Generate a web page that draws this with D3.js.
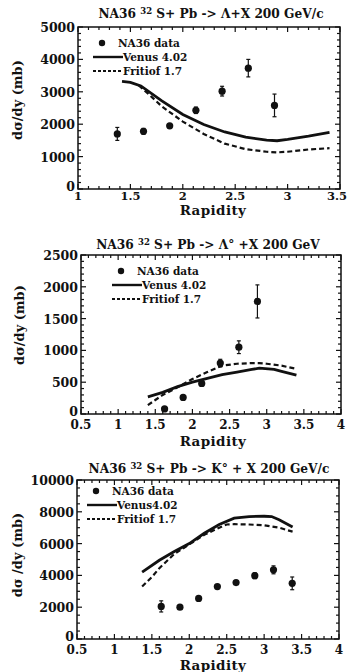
<!DOCTYPE html>
<html>
<head>
<meta charset="utf-8">
<script src="https://cdn.jsdelivr.net/npm/d3@7"></script>
<style>
  body { margin: 0; background: #fff; }
  svg text { font-family: 'DejaVu Serif', serif; font-weight: bold; fill: #111; }
</style>
</head>
<body>
<div id="chart"></div>
<script>
// Lambda panel
const lamDataX = [1.375, 1.625, 1.875, 2.125, 2.375, 2.625, 2.875];
const lamDataY = [1700, 1780, 1950, 2430, 3020, 3730, 2580];
const lamDataErr = [200, 90, 70, 100, 150, 270, 350];
const lamVenusX = [1.42, 1.5, 1.6, 1.8, 2.0, 2.2, 2.4, 2.6, 2.8, 2.9, 3.0, 3.2, 3.4];
const lamVenusY = [3320, 3290, 3180, 2720, 2300, 1990, 1760, 1600, 1510, 1490, 1530, 1630, 1750];
const lamFritX = [1.58, 1.7, 1.8, 2.0, 2.2, 2.4, 2.6, 2.8, 2.9, 3.0, 3.2, 3.4];
const lamFritY = [3200, 2850, 2550, 2080, 1700, 1400, 1230, 1150, 1130, 1150, 1220, 1260];

// anti-Lambda panel
const alamDataX = [1.625, 1.875, 2.125, 2.375, 2.625, 2.875];
const alamDataY = [80, 260, 480, 800, 1050, 1770];
const alamDataErr = [20, 30, 40, 60, 100, 260];
const alamVenusX = [1.4, 1.6, 1.8, 2.0, 2.2, 2.4, 2.6, 2.8, 2.9, 3.1, 3.2, 3.4];
const alamVenusY = [270, 340, 430, 500, 560, 620, 660, 700, 720, 700, 670, 610];
const alamFritX = [1.4, 1.5, 1.6, 1.8, 2.0, 2.2, 2.4, 2.6, 2.8, 2.9, 3.0, 3.2, 3.4];
const alamFritY = [140, 220, 300, 420, 550, 660, 760, 790, 800, 800, 790, 760, 710];

// K0 panel
const kDataX = [1.625, 1.875, 2.125, 2.375, 2.625, 2.875, 3.125, 3.375];
const kDataY = [2050, 2000, 2550, 3300, 3550, 3980, 4350, 3500];
const kDataErr = [350, 100, 120, 120, 120, 180, 250, 400];
const kVenusX = [1.37, 1.6, 1.8, 2.0, 2.2, 2.4, 2.6, 2.8, 3.0, 3.1, 3.2, 3.38];
const kVenusY = [4200, 4950, 5500, 6000, 6650, 7200, 7600, 7700, 7720, 7700, 7500, 7050];
const kFritX = [1.37, 1.5, 1.6, 1.8, 2.0, 2.2, 2.4, 2.5, 2.6, 2.8, 3.0, 3.2, 3.38];
const kFritY = [3300, 3900, 4450, 5350, 5950, 6550, 7000, 7200, 7220, 7200, 7150, 7000, 6750];

const panels = [
  {
    title: ['NA36 ', '32', ' S+ Pb -> Λ+X 200 GeV/c'], titleX: 211, titleY: 18,
    box: { left: 78, right: 340, top: 27, bottom: 189 },
    xDomain: [1, 3.5], xTicks: [1, 1.5, 2, 2.5, 3, 3.5], xMinor: 0.1, xTickSize: 11.5, xTickDy: 11,
    yDomain: [0, 5000], yTicks: [0, 1000, 2000, 3000, 4000, 5000], yMinor: 200,
    xLabelY: 215, yLabel: 'dσ/dy (mb)', yLabelX: 22, yLabelY: 100,
    legend: { x: 93, y: 43, venus: 'Venus 4.02' },
    dx: lamDataX, dy: lamDataY, de: lamDataErr,
    vx: lamVenusX, vy: lamVenusY, fx: lamFritX, fy: lamFritY
  },
  {
    title: ['NA36 ', '32', ' S+ Pb -> Λ° +X  200 GeV'], titleX: 208, titleY: 249,
    box: { left: 81, right: 341, top: 255, bottom: 414 },
    xDomain: [0.5, 4], xTicks: [0.5, 1, 1.5, 2, 2.5, 3, 3.5, 4], xMinor: 0.1, xTickSize: 12, xTickDy: 15,
    yDomain: [0, 2500], yTicks: [0, 500, 1000, 1500, 2000, 2500], yMinor: 100,
    xLabelY: 446, yLabel: 'dσ/dy (mb)', yLabelX: 24, yLabelY: 325,
    legend: { x: 112, y: 271, venus: 'Venus 4.02' },
    dx: alamDataX, dy: alamDataY, de: alamDataErr,
    vx: alamVenusX, vy: alamVenusY, fx: alamFritX, fy: alamFritY
  },
  {
    title: ['NA36 ', '32', ' S+ Pb -> K° + X 200 GeV/c'], titleX: 209, titleY: 473,
    box: { left: 77, right: 339, top: 480, bottom: 639 },
    xDomain: [0.5, 4], xTicks: [0.5, 1, 1.5, 2, 2.5, 3, 3.5, 4], xMinor: 0.1, xTickSize: 12, xTickDy: 15,
    yDomain: [0, 10000], yTicks: [0, 2000, 4000, 6000, 8000, 10000], yMinor: 500,
    xLabelY: 670, yLabel: 'dσ /dy (mb)', yLabelX: 22, yLabelY: 555,
    legend: { x: 87, y: 491, venus: 'Venus4.02' },
    dx: kDataX, dy: kDataY, de: kDataErr,
    vx: kVenusX, vy: kVenusY, fx: kFritX, fy: kFritY
  }
];

const svg = d3.select('#chart').append('svg')
  .attr('width', 348).attr('height', 672);

panels.forEach((p) => drawPanel(p));

function drawPanel(p) {
  const b = p.box;
  const x = d3.scaleLinear().domain(p.xDomain).range([b.left, b.right]);
  const y = d3.scaleLinear().domain(p.yDomain).range([b.bottom, b.top]);
  const g = svg.append('g');

  // title with superscript
  const t = g.append('text')
    .attr('x', p.titleX).attr('y', p.titleY)
    .style('text-anchor', 'middle').style('font-size', '12.2px');
  t.append('tspan').text(p.title[0]);
  t.append('tspan').attr('dy', -4).style('font-size', '8.5px').text(p.title[1]);
  t.append('tspan').attr('dy', 4).text(p.title[2]);

  // frame
  g.append('rect')
    .attr('x', b.left).attr('y', b.top)
    .attr('width', b.right - b.left).attr('height', b.bottom - b.top)
    .attr('fill', 'none').attr('stroke', '#111').attr('stroke-width', 1.5);

  // minor + major ticks on all sides, pointing inward
  const xMinorVals = d3.range(p.xDomain[0], p.xDomain[1] + 1e-9, p.xMinor);
  const yMinorVals = d3.range(p.yDomain[0], p.yDomain[1] + 1e-9, p.yMinor);
  const tickG = g.append('g').attr('stroke', '#111').attr('stroke-width', 1.2);
  xMinorVals.forEach((v) => {
    const major = p.xTicks.some((m) => Math.abs(m - v) < 1e-6);
    const len = major ? 5 : 3;
    tickG.append('line').attr('x1', x(v)).attr('x2', x(v)).attr('y1', b.bottom).attr('y2', b.bottom - len);
    tickG.append('line').attr('x1', x(v)).attr('x2', x(v)).attr('y1', b.top).attr('y2', b.top + len);
  });
  yMinorVals.forEach((v) => {
    const major = p.yTicks.some((m) => Math.abs(m - v) < 1e-6);
    const len = major ? 5 : 3;
    tickG.append('line').attr('y1', y(v)).attr('y2', y(v)).attr('x1', b.left).attr('x2', b.left + len);
    tickG.append('line').attr('y1', y(v)).attr('y2', y(v)).attr('x1', b.right).attr('x2', b.right - len);
  });

  // tick labels
  g.selectAll('text.xt').data(p.xTicks).join('text')
    .attr('class', 'xt')
    .attr('x', (d) => x(d)).attr('y', b.bottom + p.xTickDy)
    .style('text-anchor', 'middle').style('font-size', p.xTickSize + 'px')
    .text((d) => d3.format('')(d))
    .each(function () {
      // keep the last label inside the window
      const w = this.getComputedTextLength();
      const cx = +this.getAttribute('x');
      if (cx + w / 2 > 347) this.setAttribute('x', 347 - w / 2);
    });
  g.selectAll('text.yt').data(p.yTicks).join('text')
    .attr('class', 'yt')
    .attr('x', b.left - 3).attr('y', (d) => y(d) + (d === 0 ? 2 : 5))
    .style('text-anchor', 'end').style('font-size', '12.5px')
    .text((d) => d);

  // axis titles
  g.append('text')
    .attr('x', 213).attr('y', p.xLabelY)
    .style('text-anchor', 'middle').style('font-size', '13.5px')
    .style('letter-spacing', '0.4px')
    .text('Rapidity');
  g.append('text')
    .attr('transform', 'translate(' + p.yLabelX + ',' + p.yLabelY + ') rotate(-90)')
    .style('text-anchor', 'middle').style('font-size', '13px')
    .text(p.yLabel);

  // model curves
  const line = d3.line().x((d) => x(d[0])).y((d) => y(d[1]));
  g.append('path')
    .datum(d3.zip(p.vx, p.vy))
    .attr('d', line).attr('fill', 'none')
    .attr('stroke', '#111').attr('stroke-width', 2.8);
  g.append('path')
    .datum(d3.zip(p.fx, p.fy))
    .attr('d', line).attr('fill', 'none')
    .attr('stroke', '#111').attr('stroke-width', 2.2)
    .attr('stroke-dasharray', '5,3');

  // data points with error bars
  const pts = d3.zip(p.dx, p.dy, p.de);
  const eb = g.append('g').attr('stroke', '#111').attr('stroke-width', 1.2);
  pts.forEach((d) => {
    eb.append('line').attr('x1', x(d[0])).attr('x2', x(d[0]))
      .attr('y1', y(d[1] - d[2])).attr('y2', y(d[1] + d[2]));
    eb.append('line').attr('x1', x(d[0]) - 2).attr('x2', x(d[0]) + 2)
      .attr('y1', y(d[1] - d[2])).attr('y2', y(d[1] - d[2]));
    eb.append('line').attr('x1', x(d[0]) - 2).attr('x2', x(d[0]) + 2)
      .attr('y1', y(d[1] + d[2])).attr('y2', y(d[1] + d[2]));
  });
  g.selectAll('circle.dot').data(pts).join('circle')
    .attr('class', 'dot')
    .attr('cx', (d) => x(d[0])).attr('cy', (d) => y(d[1]))
    .attr('r', 3.6).attr('fill', '#111');

  // legend
  const L = p.legend;
  const lg = g.append('g').style('font-size', '10.5px');
  lg.append('circle').attr('cx', L.x + 9).attr('cy', L.y).attr('r', 3.2).attr('fill', '#111');
  lg.append('text').attr('x', L.x + 25).attr('y', L.y + 4).text('NA36 data');
  lg.append('line').attr('x1', L.x).attr('x2', L.x + 30).attr('y1', L.y + 14).attr('y2', L.y + 14)
    .attr('stroke', '#111').attr('stroke-width', 2.4);
  lg.append('text').attr('x', L.x + 30).attr('y', L.y + 18).text(L.venus);
  lg.append('line').attr('x1', L.x).attr('x2', L.x + 30).attr('y1', L.y + 28).attr('y2', L.y + 28)
    .attr('stroke', '#111').attr('stroke-width', 2).attr('stroke-dasharray', '3,2');
  lg.append('text').attr('x', L.x + 30).attr('y', L.y + 32).text('Fritiof 1.7');
}
</script>
</body>
</html>
